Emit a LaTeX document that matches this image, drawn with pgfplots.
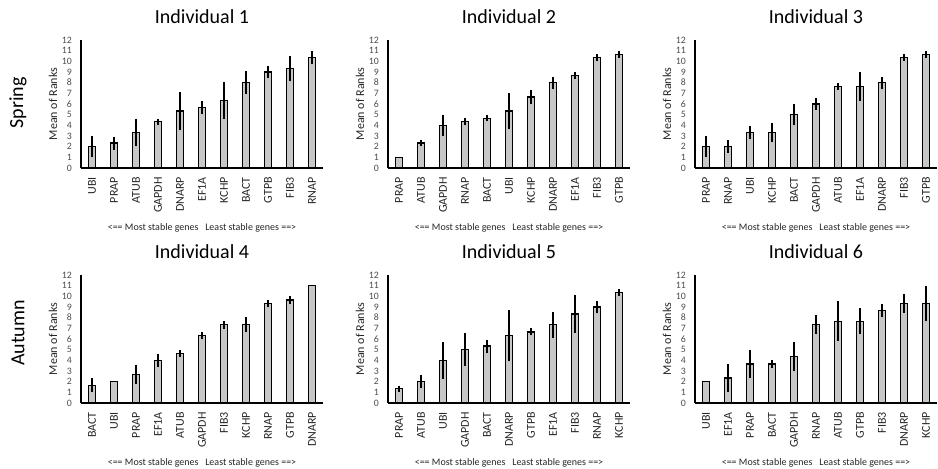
\documentclass[border=0pt]{standalone}
\usepackage{fontspec}
\setmainfont{Carlito}
\usepackage{pgfplots}
\pgfplotsset{compat=1.18}

\pgfplotsset{
  panel/.style={
    anchor=south west, scale only axis,
    width=242pt, height=128pt,
    xmin=-0.5, xmax=10.5, ymin=0, ymax=12,
    axis x line*=bottom, axis y line*=left,
    axis line style={-, line width=1.4pt, black},
    xtick={0,...,10}, ytick={0,...,12},
    major tick length=0pt,
    /pgf/number format/assume math mode=true,
    yticklabel style={font=\fontsize{9.8}{10}\selectfont, text=black!70,
      anchor=east, inner sep=0pt, xshift=-9pt},
    xticklabel style={font=\fontsize{12}{13}\selectfont, text=black!85,
      inner sep=0pt, yshift=-9pt, rotate=90, anchor=east},
    title style={font=\fontsize{20}{24}\selectfont,
      at={(axis description cs:0.5,1)}, anchor=center, yshift=17pt},
    xlabel={<== Most stable genes\hspace{0.45em} Least stable genes ==>},
    every axis x label/.style={at={(axis description cs:0.5,0)},
      yshift=-60pt, anchor=center, font=\fontsize{10}{12}\selectfont, text=black!85},
    ylabel={Mean of Ranks},
    every axis y label/.style={at={(axis description cs:0,0.5)},
      xshift=-28pt, rotate=90, anchor=center, font=\fontsize{12}{14}\selectfont, text=black!85},
  },
  rankbar/.style={
    ybar, bar width=6.5pt, fill=black!22, draw=black, line width=1.3pt,
    error bars/.cd, y dir=both, y explicit, error mark=none,
    error bar style={line width=1.6pt, black},
  },
}

\begin{document}
\begin{tikzpicture}
\path[use as bounding box] (0pt,0pt) rectangle (938pt,469pt);

% row labels
\node[rotate=90, font=\fontsize{20}{24}\selectfont] at (18pt,366pt) {Spring};
\node[rotate=90, font=\fontsize{20}{24}\selectfont] at (18pt,136pt) {Autumn};

% Individual 1
\begin{axis}[panel, at={(81pt,301pt)}, title={Individual 1},
  xticklabels={UBI,PRAP,ATUB,GAPDH,DNARP,EF1A,KCHP,BACT,GTPB,FIB3,RNAP}]
\addplot[rankbar] table[x=x, y=y, y error=e] {
x y e
0 2.00 1.00
1 2.33 0.62
2 3.33 1.30
3 4.33 0.30
4 5.33 1.75
5 5.67 0.65
6 6.33 1.75
7 8.00 1.10
8 9.00 0.55
9 9.33 1.20
10 10.33 0.62
};
\end{axis}

% Individual 2
\begin{axis}[panel, at={(388pt,301pt)}, title={Individual 2},
  xticklabels={PRAP,ATUB,GAPDH,RNAP,BACT,UBI,KCHP,DNARP,EF1A,FIB3,GTPB}]
\addplot[rankbar] table[x=x, y=y, y error=e] {
x y e
0 1.00 0.00
1 2.33 0.30
2 4.00 1.00
3 4.33 0.33
4 4.67 0.30
5 5.33 1.67
6 6.67 0.65
7 8.00 0.55
8 8.67 0.30
9 10.33 0.33
10 10.67 0.33
};
\end{axis}

% Individual 3
\begin{axis}[panel, at={(695pt,301pt)}, title={Individual 3},
  xticklabels={PRAP,RNAP,UBI,KCHP,BACT,GAPDH,ATUB,EF1A,DNARP,FIB3,GTPB}]
\addplot[rankbar] table[x=x, y=y, y error=e] {
x y e
0 2.00 1.00
1 2.00 0.58
2 3.33 0.65
3 3.33 0.90
4 5.00 1.00
5 6.00 0.55
6 7.67 0.33
7 7.67 1.35
8 8.00 0.55
9 10.33 0.33
10 10.67 0.33
};
\end{axis}

% Individual 4
\begin{axis}[panel, at={(81pt,66pt)}, title={Individual 4},
  xticklabels={BACT,UBI,PRAP,EF1A,ATUB,GAPDH,FIB3,KCHP,RNAP,GTPB,DNARP}]
\addplot[rankbar] table[x=x, y=y, y error=e] {
x y e
0 1.67 0.67
1 2.00 0.00
2 2.67 0.90
3 4.00 0.60
4 4.67 0.33
5 6.33 0.33
6 7.33 0.35
7 7.33 0.70
8 9.33 0.35
9 9.67 0.35
10 11.00 0.00
};
\end{axis}

% Individual 5
\begin{axis}[panel, at={(388pt,66pt)}, title={Individual 5},
  xticklabels={PRAP,ATUB,UBI,GAPDH,BACT,DNARP,GTPB,EF1A,FIB3,RNAP,KCHP}]
\addplot[rankbar] table[x=x, y=y, y error=e] {
x y e
0 1.33 0.30
1 2.00 0.58
2 4.00 1.73
3 5.00 1.53
4 5.33 0.60
5 6.33 2.40
6 6.67 0.33
7 7.33 1.20
8 8.33 1.75
9 9.00 0.58
10 10.33 0.33
};
\end{axis}

% Individual 6
\begin{axis}[panel, at={(695pt,66pt)}, title={Individual 6},
  xticklabels={UBI,EF1A,PRAP,BACT,GAPDH,RNAP,ATUB,GTPB,FIB3,DNARP,KCHP}]
\addplot[rankbar] table[x=x, y=y, y error=e] {
x y e
0 2.00 0.00
1 2.33 1.33
2 3.67 1.30
3 3.67 0.35
4 4.33 1.35
5 7.33 0.90
6 7.67 1.85
7 7.67 1.20
8 8.67 0.65
9 9.33 0.85
10 9.33 1.65
};
\end{axis}
\end{tikzpicture}
\end{document}
